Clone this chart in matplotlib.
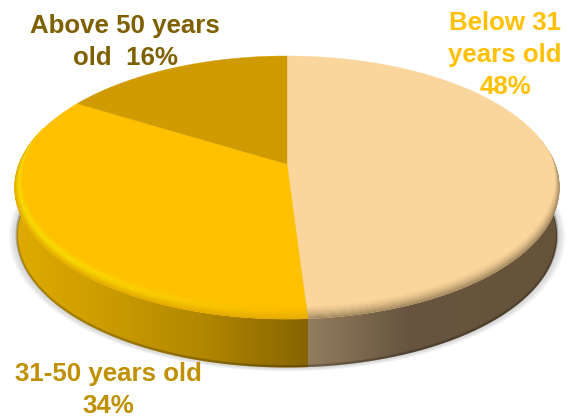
import numpy as np
import matplotlib
matplotlib.use("Agg")
import matplotlib.pyplot as plt
from matplotlib.collections import PolyCollection
from matplotlib.colors import to_rgb
from matplotlib.patches import Polygon

plt.rcParams['font.family'] = ['Liberation Sans', 'DejaVu Sans']

# Age groups, clockwise from twelve o'clock
age_groups = ["Below 31 years old", "31-50 years old", "Above 50 years old"]
shares = [48, 34, 16]
face_colors = ["#FBD69C", "#FFC000", "#CF9B00"]
label_colors = ["#FFC000", "#BF9000", "#7F6000"]

# Tilted-disc geometry in pixel units
CX, CY = 287.0, 164.0
RX = 268.0
TILT_A, TILT_C = -98.0, 0.1787
DEPTH = 48.5
ECX, ECY = 286.0, 187.5


def project(theta):
    """Map a clockwise angle on the flat disc to the tilted top face."""
    s, t = np.sin(theta), np.cos(theta)
    d = TILT_C * t + 1
    return CX + RX * s / d, (TILT_A * t + CY) / d


def mix(a, b, f):
    a, b = np.array(to_rgb(a)), np.array(to_rgb(b))
    return tuple(a + (b - a) * np.clip(f, 0, 1))


def ramp(x, stops):
    xs = [p[0] for p in stops]
    channels = np.array([to_rgb(p[1]) for p in stops])
    return np.stack([np.interp(x, xs, channels[:, i]) for i in range(3)], axis=-1)


fig = plt.figure(figsize=(5.72, 4.18), dpi=100)
ax = fig.add_axes([0, 0, 1, 1])

fractions = np.array(shares, dtype=float) / sum(shares)
edges = np.concatenate([[0], np.cumsum(fractions)]) * 2 * np.pi

# Soft drop shadow hugging the lower rim
full = np.linspace(0, 2 * np.pi, 361)
fx, fy = project(full)
for k in range(9, -1, -1):
    grow = 1 + k * 0.0025
    sx = ECX + (fx - ECX) * grow
    sy = ECY + (fy - ECY) * grow + DEPTH + 1
    ax.fill(sx, sy, color="#7A7A7A", alpha=0.028, lw=0, zorder=1)

# Side wall: horizontal gradient clipped to the band under the rim
low = np.linspace(np.pi / 2 - 0.2, 3 * np.pi / 2 + 0.2, 400)
lx, ly = project(low)
bottom_x = ECX + (lx - ECX) * 0.992
bottom_y = ly + DEPTH
split_x = float(project(edges[1])[0])
columns = np.arange(0, 572) + 0.5
left_part = ramp(columns, [(14, "#DFAB00"), (100, "#CD9D00"), (200, "#B38800"),
                           (split_x, "#876400")])
right_part = ramp(columns, [(split_x, "#937D5E"), (split_x + 100, "#675540"),
                            (560, "#655339")])
gradient = np.where((columns < split_x)[:, None], left_part, right_part)[None, :, :]
wall_outline = Polygon(np.column_stack([np.r_[lx, bottom_x[::-1]], np.r_[ly, bottom_y[::-1]]]),
                       closed=True, transform=ax.transData, facecolor="none", edgecolor="none")
ax.add_patch(wall_outline)
wall = ax.imshow(gradient, extent=(0, 572, 418, 0), aspect="auto",
                 interpolation="nearest", zorder=2)
wall.set_clip_path(wall_outline)
# Darker lip along the foot of the wall
ax.plot(bottom_x, bottom_y - 1.2, color="#000000", alpha=0.22, lw=1.8,
        solid_capstyle="butt", zorder=3)

# Top-face wedges
for start, stop, color in zip(edges[:-1], edges[1:], face_colors):
    th = np.linspace(start, stop, 240)
    x, y = project(th)
    verts = np.column_stack([np.r_[CX, x], np.r_[CY, y]])
    ax.add_patch(Polygon(verts, closed=True, facecolor=color, edgecolor=color,
                         linewidth=0.3, zorder=4))


def bevel_width(theta, lift):
    """Bevel is widest at the front of the disc and vanishes at the back."""
    return np.clip(-np.cos(theta) * 1.05 + lift, 0, None) ** 0.9 * 12.0


# Rounded bevel along the front rim of each wedge
layers = np.linspace(0, 1, 14)
for idx, (start, stop, color) in enumerate(zip(edges[:-1], edges[1:], face_colors)):
    th = np.linspace(start, stop, 220)
    bx, by = project(th)
    w = bevel_width(th, 0.1 if idx == 0 else 0.3)
    nx, ny = ECX - bx, ECY - by
    norm = np.hypot(nx / 2, ny)
    nx, ny = nx / norm * 0.75, ny / norm
    qs, cs = [], []
    for v0, v1 in zip(layers[:-1], layers[1:]):
        for i in range(len(th) - 1):
            if w[i] <= 0 and w[i + 1] <= 0:
                continue
            qs.append([(bx[i] + nx[i] * w[i] * v0, by[i] + ny[i] * w[i] * v0),
                       (bx[i + 1] + nx[i + 1] * w[i + 1] * v0, by[i + 1] + ny[i + 1] * w[i + 1] * v0),
                       (bx[i + 1] + nx[i + 1] * w[i + 1] * v1, by[i + 1] + ny[i + 1] * w[i + 1] * v1),
                       (bx[i] + nx[i] * w[i] * v1, by[i] + ny[i] * w[i] * v1)])
            vm = (v0 + v1) / 2
            xm = bx[i]
            if idx == 0:
                cs.append(mix(color, "#5E4C30", 0.6 * (1 - vm) ** 1.5))
            else:
                glow = np.clip((280 - xm) / 220, 0, 1) * np.exp(-((vm - 0.5) / 0.3) ** 2)
                shade = 0.25 * (1 - vm) ** 2
                cs.append(mix(mix(color, "#FFE600", glow * 0.85), "#8A6500", shade))
    if qs:
        ax.add_collection(PolyCollection(qs, facecolors=cs, edgecolors=cs,
                                         linewidths=0.3, zorder=5))

# Slice labels
text_style = dict(fontsize=18.6, fontweight="bold", ha="center", va="center",
                  linespacing=1.41, zorder=6)
ax.text(505, 55, f"Below 31\nyears old\n{shares[0]}%", color=label_colors[0], **text_style)
ax.text(108, 390, f"31-50 years old\n{shares[1]}%", color=label_colors[1], **text_style)
ax.text(125, 42, f"Above 50 years\nold  {shares[2]}%", color=label_colors[2], **text_style)

ax.set_xlim(0, 572)
ax.set_ylim(418, 0)
ax.axis("off")
fig.savefig("out.png", dpi=100, facecolor="white")
